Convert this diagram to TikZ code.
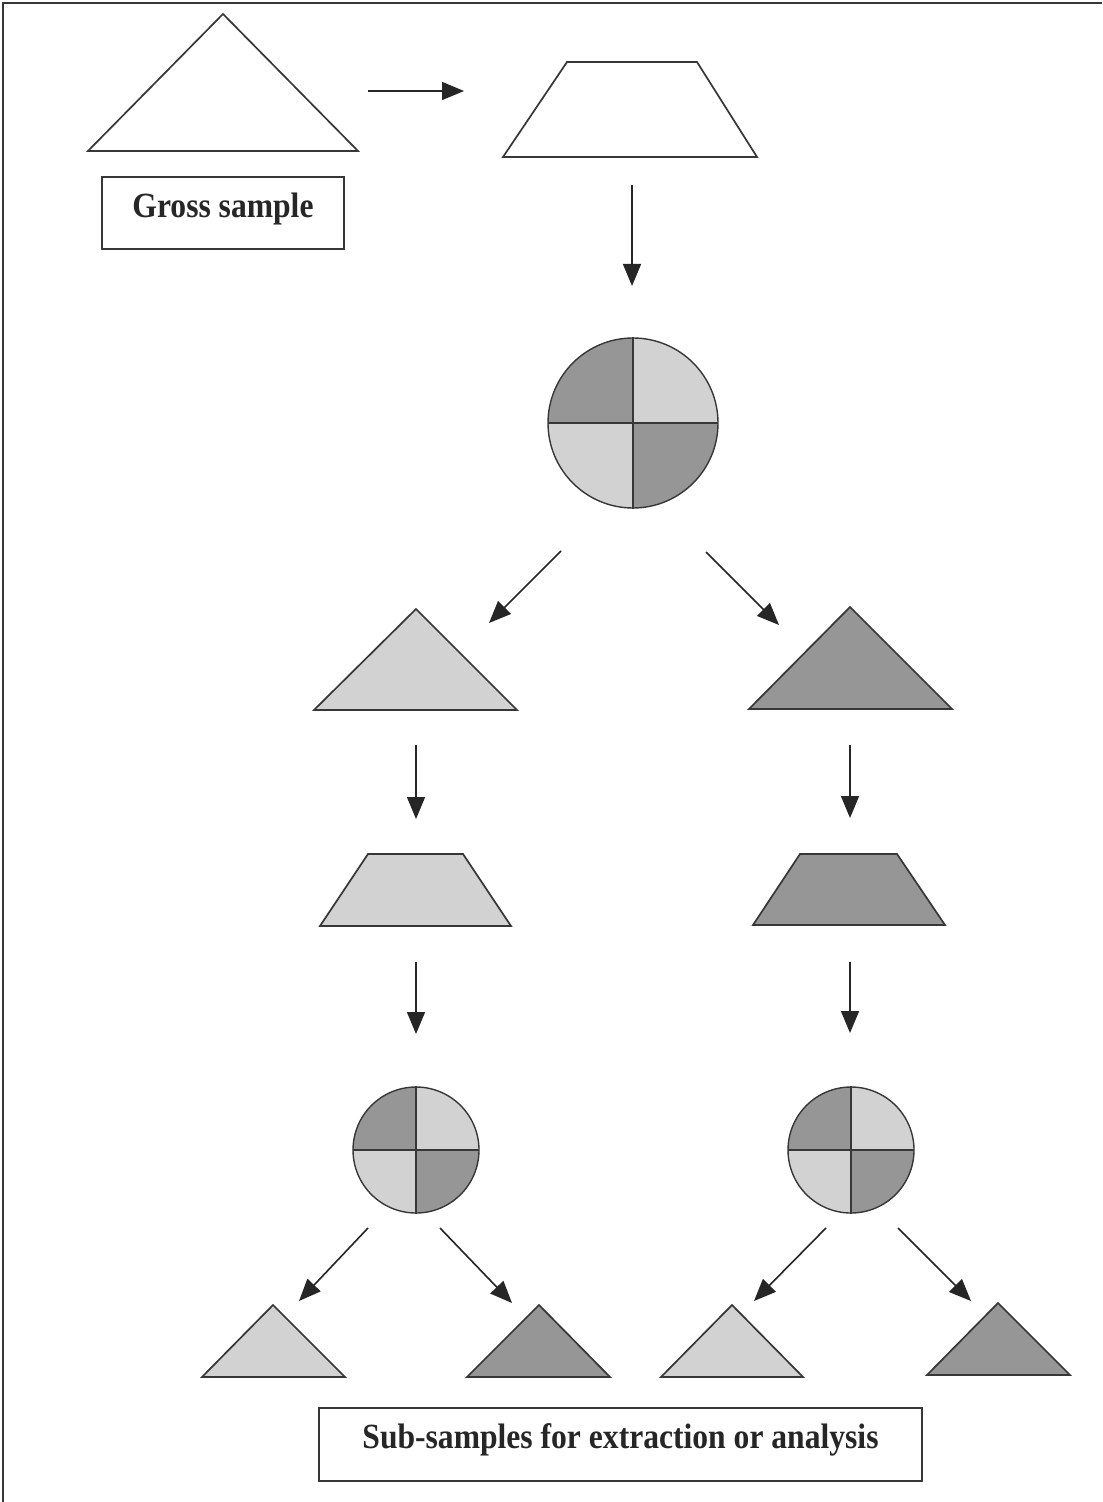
\documentclass[tikz,border=0pt]{standalone}
\usepackage{fontspec}
\setmainfont{Liberation Serif}
\usetikzlibrary{arrows.meta}
\definecolor{lightfill}{RGB}{210,210,210}
\definecolor{darkfill}{RGB}{150,150,150}
\definecolor{edge}{RGB}{55,55,55}
\begin{document}
\begin{tikzpicture}[x=0.5pt,y=0.5pt,
  outline/.style={draw=edge,line width=0.85pt,line join=miter},
  arr/.style={-{Triangle[length=11pt,width=9pt]},line width=0.8pt,draw=black!85,fill=black!85},
  lbl/.style={draw=edge,line width=0.7pt,inner sep=0pt},
  lbltext/.style={font=\bfseries\fontsize{15.8}{18}\selectfont,inner sep=0pt,text=black!85},
  quad/.pic={
    \fill[darkfill] (0,0) -- (180:#1) arc[start angle=180,end angle=90,radius=#1] -- cycle;
    \fill[lightfill] (0,0) -- (0:#1) arc[start angle=0,end angle=90,radius=#1] -- cycle;
    \fill[lightfill] (0,0) -- (180:#1) arc[start angle=180,end angle=270,radius=#1] -- cycle;
    \fill[darkfill] (0,0) -- (270:#1) arc[start angle=270,end angle=360,radius=#1] -- cycle;
    \draw[edge,line width=0.7pt] (0,0) circle[radius=#1];
    \draw[edge,line width=0.9pt] (-#1,0) -- (#1,0);
    \draw[edge,line width=0.9pt] (0,-#1-1) -- (0,#1+1);
  }]
\useasboundingbox (0,0) rectangle (1102,-1502);
\fill[white] (0,0) rectangle (1102,-1502);
\draw[edge,line width=1.2pt] (3,-1502) -- (3,-3) -- (1102,-3);

% gross sample
\draw[outline,fill=white] (88,-151) -- (223,-14) -- (358,-151) -- cycle;
\node[lbl,minimum width=121pt,minimum height=36pt] (gross) at (223,-213) {};
\node[lbltext,yscale=1.12] (grosst) at (223,-209) {Gross sample};
\coordinate (a1s) at (368,-91); \coordinate (a1e) at (464,-91);
\draw[arr] (a1s) -- (a1e);

% top trapezoid
\draw[outline,fill=white] (503,-157) -- (567,-62) -- (697,-62) -- (757,-157) -- cycle;
\coordinate (a2s) at (632,-185); \coordinate (a2e) at (632,-286);
\draw[arr] (a2s) -- (a2e);

% big circle
\pic at (633,-423) {quad=85};
\coordinate (a3s) at (561,-551); \coordinate (a3e) at (489,-623);
\coordinate (a4s) at (706,-552); \coordinate (a4e) at (779,-625);
\draw[arr] (a3s) -- (a3e);
\draw[arr] (a4s) -- (a4e);

% left branch
\draw[outline,fill=lightfill] (314,-710) -- (416,-609) -- (517,-710) -- cycle;
\coordinate (b1s) at (416,-745); \coordinate (b1e) at (416,-819);
\draw[arr] (b1s) -- (b1e);
\draw[outline,fill=lightfill] (320,-926) -- (368,-854) -- (463,-854) -- (511,-926) -- cycle;
\coordinate (b2s) at (416,-962); \coordinate (b2e) at (416,-1034);
\draw[arr] (b2s) -- (b2e);
\pic at (416,-1150) {quad=63};

% right branch
\draw[outline,fill=darkfill] (749,-709) -- (850,-607) -- (952,-709) -- cycle;
\coordinate (c1s) at (850,-745); \coordinate (c1e) at (850,-818);
\draw[arr] (c1s) -- (c1e);
\draw[outline,fill=darkfill] (753,-925) -- (800,-854) -- (897,-854) -- (945,-925) -- cycle;
\coordinate (c2s) at (850,-962); \coordinate (c2e) at (850,-1033);
\draw[arr] (c2s) -- (c2e);
\pic at (851,-1150) {quad=63};

% arrows to sub-samples
\coordinate (d1s) at (368,-1228); \coordinate (d1e) at (299,-1301);
\coordinate (d2s) at (440,-1228); \coordinate (d2e) at (512,-1303);
\coordinate (d3s) at (826,-1228); \coordinate (d3e) at (754,-1301);
\coordinate (d4s) at (898,-1228); \coordinate (d4e) at (971,-1301);
\draw[arr] (d1s) -- (d1e);
\draw[arr] (d2s) -- (d2e);
\draw[arr] (d3s) -- (d3e);
\draw[arr] (d4s) -- (d4e);

% sub-sample triangles
\draw[outline,fill=lightfill] (202,-1377) -- (273,-1305) -- (345,-1377) -- cycle;
\draw[outline,fill=darkfill] (467,-1377) -- (539,-1305) -- (610,-1377) -- cycle;
\draw[outline,fill=lightfill] (661,-1377) -- (732,-1305) -- (803,-1377) -- cycle;
\draw[outline,fill=darkfill] (927,-1375) -- (998,-1303) -- (1070,-1375) -- cycle;

\node[lbl,minimum width=301.5pt,minimum height=36.5pt] (sub) at (620.5,-1444.5) {};
\node[lbltext,yscale=1.12] (subt) at (620.5,-1440) {Sub-samples for extraction or analysis};
\end{tikzpicture}
\end{document}
